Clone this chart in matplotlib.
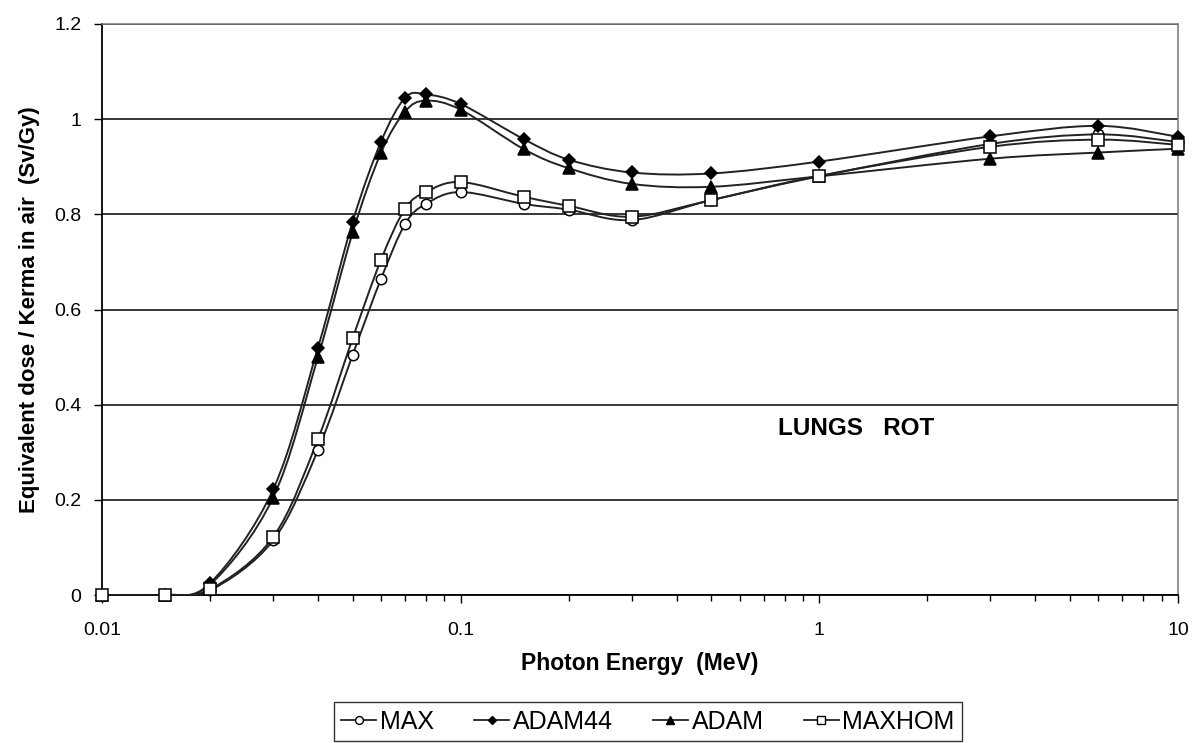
#!/usr/bin/env python3
"""Lungs ROT: equivalent dose per air kerma vs photon energy, four phantoms."""
import numpy as np
import matplotlib

matplotlib.use("Agg")
import matplotlib.pyplot as plt
from matplotlib.path import Path
from matplotlib.patches import PathPatch
from matplotlib.lines import Line2D
from matplotlib.ticker import FixedLocator, NullFormatter

plt.rcParams["font.family"] = ["Liberation Sans", "DejaVu Sans"]

# photon energies (MeV)
energy = [0.01, 0.015, 0.02, 0.03, 0.04, 0.05, 0.06, 0.07, 0.08, 0.1,
          0.15, 0.2, 0.3, 0.5, 1, 3, 6, 10]

max_vals = [0, 0, 0.010, 0.115, 0.305, 0.505, 0.665, 0.780, 0.822, 0.847,
            0.822, 0.810, 0.788, 0.830, 0.880, 0.948, 0.968, 0.952]
adam44_vals = [0, 0, 0.025, 0.222, 0.520, 0.785, 0.953, 1.045, 1.052, 1.032,
               0.958, 0.915, 0.888, 0.886, 0.911, 0.964, 0.986, 0.963]
adam_vals = [0, 0, 0.022, 0.205, 0.500, 0.762, 0.930, 1.016, 1.039, 1.020,
             0.937, 0.897, 0.864, 0.858, 0.880, 0.917, 0.930, 0.938]
maxhom_vals = [0, 0, 0.012, 0.122, 0.328, 0.540, 0.705, 0.812, 0.847, 0.868,
               0.837, 0.818, 0.795, 0.830, 0.881, 0.942, 0.957, 0.946]

series_names = ["MAX", "ADAM44", "ADAM", "MAXHOM"]

x_ticks = [0.01, 0.1, 1, 10]
x_ticklabels = ["0.01", "0.1", "1", "10"]
y_ticks = [0, 0.2, 0.4, 0.6, 0.8, 1.0, 1.2]
y_ticklabels = ["0", "0.2", "0.4", "0.6", "0.8", "1", "1.2"]


def smooth_path(x, y):
    """Excel-like smoothed line: cubic Bezier segments in log-x space."""
    lx = np.log10(np.asarray(x, dtype=float))
    yy = np.asarray(y, dtype=float)
    pts = np.column_stack([lx, yy])
    n = len(pts)
    verts = [pts[0]]
    codes = [Path.MOVETO]
    for i in range(n - 1):
        p0 = pts[i - 1] if i > 0 else pts[i]
        p3 = pts[i + 2] if i + 2 < n else pts[i + 1]
        c1 = pts[i] + (pts[i + 1] - p0) / 6.0
        c2 = pts[i + 1] - (p3 - pts[i]) / 6.0
        verts += [c1, c2, pts[i + 1]]
        codes += [Path.CURVE4] * 3
    verts = np.array(verts)
    verts[:, 0] = 10 ** verts[:, 0]
    return Path(verts, codes)


styles = {
    "MAX": dict(marker="o", mfc="white", mec="black", ms=7.5),
    "ADAM44": dict(marker="D", mfc="black", mec="black", ms=6),
    "ADAM": dict(marker="^", mfc="black", mec="black", ms=8),
    "MAXHOM": dict(marker="s", mfc="white", mec="black", ms=8.5),
}

fig = plt.figure(figsize=(12, 7.43), dpi=100)
ax = fig.add_axes([0.085, 0.199, 0.8967, 0.7687])
ax.set_xscale("log")

data = [max_vals, adam44_vals, adam_vals, maxhom_vals]
handles = []
for name, vals in zip(series_names, data):
    ax.add_patch(PathPatch(smooth_path(energy, vals), fill=False,
                           edgecolor="#222222", lw=1.4, zorder=3))
    st = styles[name]
    ax.plot(energy, vals, linestyle="none", marker=st["marker"],
            markerfacecolor=st["mfc"], markeredgecolor=st["mec"],
            markersize=st["ms"], markeredgewidth=1.1, zorder=4, clip_on=False)
    handles.append(Line2D([], [], color="#222222", lw=1.3, marker=st["marker"],
                          markerfacecolor=st["mfc"], markeredgecolor=st["mec"],
                          markersize=st["ms"] * 0.75, markeredgewidth=1.0))

ax.set_xlim(0.01, 10)
ax.set_ylim(0, 1.2)

ax.xaxis.set_major_locator(FixedLocator(x_ticks))
ax.set_xticklabels(x_ticklabels)
ax.xaxis.set_minor_locator(FixedLocator(
    [m * d for d in (0.01, 0.1, 1) for m in range(2, 10)]))
ax.xaxis.set_minor_formatter(NullFormatter())
ax.set_yticks(y_ticks)
ax.set_yticklabels(y_ticklabels)

ax.tick_params(axis="both", which="major", direction="out", length=6,
               width=1, labelsize=14, colors="black", pad=9)
ax.tick_params(axis="x", which="minor", direction="out", length=4, width=1)
ax.tick_params(axis="x", which="major", pad=13)

ax.grid(axis="y", which="major", color="black", lw=1.1)
ax.set_axisbelow(True)

for side in ("left", "bottom"):
    ax.spines[side].set_color("black")
    ax.spines[side].set_linewidth(1.3)
for side in ("top", "right"):
    ax.spines[side].set_color("#777777")
    ax.spines[side].set_linewidth(1.1)

ax.set_xlabel("Photon Energy  (MeV)", fontsize=16.5, fontweight="bold",
              labelpad=10)
ax.set_ylabel("Equivalent dose / Kerma in air  (Sv/Gy)", fontsize=16,
              fontweight="bold", labelpad=10)

ax.text(0.7007, 0.291, "LUNGS   ROT", transform=ax.transAxes,
        fontsize=17.5, fontweight="bold", ha="center", va="center")

leg = fig.legend(handles, series_names, loc="upper center", ncol=4,
                 bbox_to_anchor=(0.54, 0.055), borderaxespad=0, fontsize=18,
                 frameon=True, fancybox=False, edgecolor="black",
                 handlelength=1.4, handletextpad=0.15, columnspacing=1.6,
                 borderpad=0.3)
leg.get_frame().set_linewidth(1.0)

fig.savefig("out.png", dpi=100)
